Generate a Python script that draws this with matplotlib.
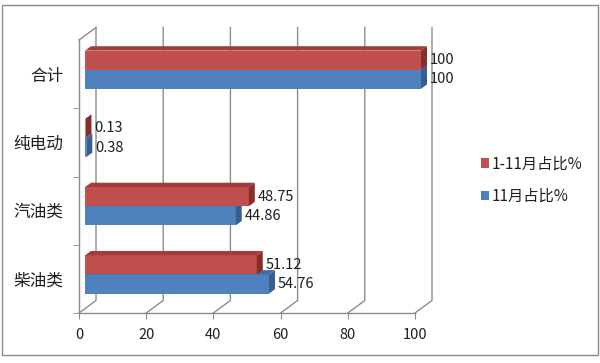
import matplotlib.pyplot as plt
from matplotlib.patches import Polygon, Rectangle, Patch

plt.rcParams['font.family'] = ['Noto Sans CJK SC', 'DejaVu Sans']

# ------------------------------------------------------------
# DATA
# ------------------------------------------------------------
categories = ['柴油类', '汽油类', '纯电动', '合计']
share_ytd = [51.12, 48.75, 0.13, 100]   # 1-11月占比%
share_nov = [54.76, 44.86, 0.38, 100]   # 11月占比%
series_names = ['1-11月占比%', '11月占比%']
xticks = [0, 20, 40, 60, 80, 100]

# ------------------------------------------------------------
# LAYOUT (pixels, figure is 600x363 at dpi 100)
# ------------------------------------------------------------
W, H = 600, 363
ax_left, ax_right, ax_top, ax_bottom = 79, 415, 40, 313
XMIN, XMAX, YMIN, YMAX = 0, 100, -0.5, 3.5
px_x = (XMAX - XMIN) / (ax_right - ax_left)
px_y = (YMAX - YMIN) / (ax_bottom - ax_top)

WALL_DX, WALL_DY = 17 * px_x, 12.5 * px_y      # depth of the box
BAR_OX, BAR_OY = 6 * px_x, 4.4 * px_y          # front face of the bars
BAR_DX, BAR_DY = 6 * px_x, 4.4 * px_y          # depth of the bars
BAR_H = 0.28

GRID = '#8c8c8c'
TXT = '#1e1e1e'
colors = {
    'red': ('#C0504D', '#A13E3B', '#8A2D2A'),
    'blue': ('#4F81BD', '#3F6DA6', '#355E92'),
}

fig = plt.figure(figsize=(W / 100, H / 100), dpi=100)
ax = fig.add_axes([ax_left / W, 1 - ax_bottom / H,
                   (ax_right - ax_left) / W, (ax_bottom - ax_top) / H])
ax.set_xlim(XMIN, XMAX)
ax.set_ylim(YMIN, YMAX)
ax.patch.set_alpha(0)

for s in ['top', 'right']:
    ax.spines[s].set_visible(False)
for s in ['left', 'bottom']:
    ax.spines[s].set_color(GRID)
    ax.spines[s].set_linewidth(1)

# back wall grid + floor diagonals
for xt in xticks:
    ax.plot([xt, xt + WALL_DX, xt + WALL_DX],
            [YMIN, YMIN + WALL_DY, YMAX + WALL_DY],
            color=GRID, lw=1, clip_on=False, zorder=1)
ax.plot([XMIN, XMIN + WALL_DX], [YMAX, YMAX + WALL_DY],
        color=GRID, lw=1, clip_on=False, zorder=1)


def bar3d(y0, v, key):
    front, top, side = colors[key]
    x0 = BAR_OX
    yb = y0 + BAR_OY
    yt = yb + BAR_H
    ax.add_patch(Rectangle((x0, yb), v, BAR_H, facecolor=front,
                           edgecolor='none', clip_on=False, zorder=3))
    ax.add_patch(Polygon([(x0, yt), (x0 + v, yt), (x0 + v + BAR_DX, yt + BAR_DY),
                          (x0 + BAR_DX, yt + BAR_DY)], closed=True,
                         facecolor=top, edgecolor='none', clip_on=False, zorder=3))
    ax.add_patch(Polygon([(x0 + v, yb), (x0 + v + BAR_DX, yb + BAR_DY),
                          (x0 + v + BAR_DX, yt + BAR_DY), (x0 + v, yt)], closed=True,
                         facecolor=side, edgecolor='none', clip_on=False, zorder=3))
    ax.text(x0 + v + 9 * px_x, yb + BAR_H / 2, f'{v:g}', ha='left', va='center',
            fontsize=10.5, color=TXT, zorder=4, clip_on=False)


for i in range(len(categories)):
    bar3d(i - BAR_H, share_nov[i], 'blue')
    bar3d(i, share_ytd[i], 'red')

# ticks and labels
ax.set_xticks(xticks)
ax.set_xticklabels([str(t) for t in xticks], fontsize=10.5, color=TXT)
ax.tick_params(axis='x', direction='out', length=4, color=GRID, pad=7)
ax.set_yticks(range(len(categories)))
ax.set_yticklabels(categories, fontsize=12, color=TXT)
ax.tick_params(axis='y', which='major', length=0, pad=11)
ax.set_yticks([-0.5, 0.5, 1.5, 2.5], minor=True)
ax.tick_params(axis='y', which='minor', direction='out', length=4, color=GRID)

# legend
handles = [Patch(facecolor=colors['red'][0]), Patch(facecolor=colors['blue'][0])]
fig.legend(handles, series_names, loc='center left',
           bbox_to_anchor=(467 / W, 1 - 180 / H), frameon=False, fontsize=11,
           handlelength=0.55, handleheight=0.55, handletextpad=0.15,
           labelspacing=1.0, labelcolor=TXT)

# outer border
fig.patches.append(Rectangle((2 / W, 8 / H), 596 / W, 350 / H, transform=fig.transFigure,
                             fill=False, edgecolor='#8a8a8a', lw=1))

fig.savefig('out.png', dpi=100)
